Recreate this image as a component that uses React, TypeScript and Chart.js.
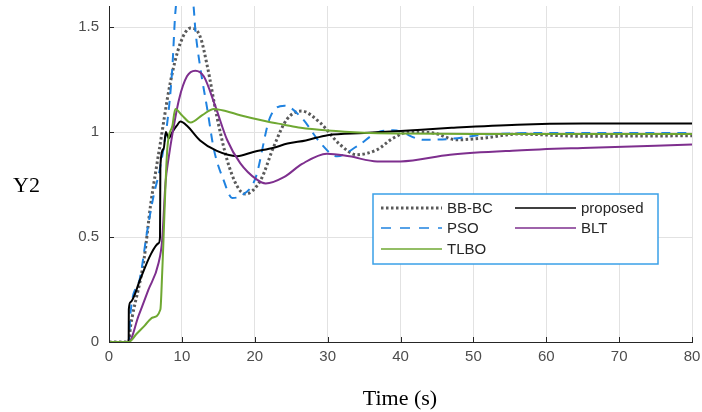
import React, { useEffect, useRef } from 'react';
import { Chart, registerables } from 'chart.js';
Chart.register(...registerables);

// ---- data ----
const xTicks = [0, 10, 20, 30, 40, 50, 60, 70, 80];
const yTicks = [0, 0.5, 1, 1.5];

const bbbcT = [0, 2.7, 2.95, 3.2, 4.8, 5.7, 6.6, 6.9, 8.4, 9.8, 11.2, 12.5, 13.5, 14.8, 16.2, 17.6, 18.7, 20.8, 22.6, 24.4, 26.4, 29, 31.7, 34, 36.8, 39, 41.3, 44.5, 47.7, 51.4, 56, 65, 80];
const bbbcY = [0, 0, 0.074, 0.122, 0.392, 0.65, 0.852, 0.916, 1.233, 1.424, 1.495, 1.455, 1.312, 1.074, 0.868, 0.741, 0.705, 0.77, 0.93, 1.06, 1.1, 1.043, 0.94, 0.892, 0.916, 0.971, 1.0, 0.995, 0.963, 0.971, 0.99, 0.98, 0.982];

const psoT = [0, 2.7, 2.95, 4.3, 5.2, 6.1, 7.05, 8.2, 8.7, 9.1, 10.3, 11.6, 11.85, 12.5, 13.5, 14.4, 15.7, 16.9, 18.3, 20.1, 22.1, 24.1, 26.5, 29, 31.3, 34, 37.2, 39, 43.2, 46.8, 51.4, 60, 80];
const psoY = [0, 0, 0.138, 0.312, 0.519, 0.693, 0.836, 1.106, 1.312, 1.567, 1.8, 1.6, 1.487, 1.312, 1.106, 0.916, 0.773, 0.686, 0.7, 0.78, 1.07, 1.125, 1.065, 0.948, 0.884, 0.931, 1.003, 1.008, 0.963, 0.967, 0.987, 0.995, 0.995];

const tlboT = [0, 2.7, 3.8, 4.9, 6.0, 7.05, 7.3, 8.0, 8.7, 9.1, 10, 11.2, 12.8, 14.4, 16, 18, 21.7, 24, 26.3, 30, 35, 40, 50, 60, 80];
const tlboY = [0, 0, 0.039, 0.078, 0.117, 0.155, 0.33, 0.92, 1.03, 1.11, 1.08, 1.045, 1.08, 1.11, 1.1, 1.08, 1.05, 1.035, 1.02, 1.007, 0.997, 0.993, 0.99, 0.99, 0.99];

const propT = [0, 2.7, 2.72, 2.95, 4.3, 5.7, 6.8, 7.0, 7.05, 7.5, 7.8, 8.2, 8.7, 9.3, 9.8, 10.7, 12.5, 14.8, 17.6, 19.8, 22.6, 24.5, 27, 30, 35, 40, 47, 56, 65, 80];
const propY = [0, 0, 0.155, 0.19, 0.3, 0.415, 0.47, 0.5, 0.84, 0.92, 1.0, 0.97, 1.0, 1.03, 1.05, 1.03, 0.96, 0.91, 0.885, 0.905, 0.925, 0.945, 0.96, 0.985, 0.995, 1.005, 1.02, 1.035, 1.04, 1.04];

const bltT = [0, 2.7, 4.05, 5.4, 6.8, 7.3, 7.75, 8.2, 8.7, 9.6, 10.7, 11.85, 13, 14.6, 16.2, 18, 20.3, 21.5, 24, 26.5, 29.9, 33, 36.8, 40, 46.8, 56, 65, 80];
const bltY = [0, 0, 0.124, 0.248, 0.376, 0.487, 0.757, 0.88, 0.99, 1.154, 1.265, 1.292, 1.265, 1.122, 0.963, 0.852, 0.773, 0.755, 0.785, 0.848, 0.897, 0.884, 0.86, 0.86, 0.892, 0.912, 0.924, 0.94];

const legendNames = ['BB-BC', 'proposed', 'PSO', 'BLT', 'TLBO'];

const COLORS = {
  bbbc: '#5a5a5a',
  pso: '#1f82e0',
  tlbo: '#6fa832',
  prop: '#000000',
  blt: '#7e2f8e',
};

const pts = (t: number[], y: number[]) => t.map((v, i) => ({ x: v, y: y[i] }));

const overlay = {
  id: 'overlay',
  afterDraw(chart: any) {
    const ctx = chart.ctx;
    const a = chart.chartArea;
    const xs = chart.scales.x;
    const ys = chart.scales.y;
    ctx.save();
    // inward ticks
    ctx.strokeStyle = '#262626';
    ctx.lineWidth = 1;
    ctx.beginPath();
    yTicks.forEach((v) => {
      const p = Math.round(ys.getPixelForValue(v)) + 0.5;
      ctx.moveTo(a.left, p);
      ctx.lineTo(a.left + 5, p);
    });
    xTicks.forEach((v) => {
      const p = Math.round(xs.getPixelForValue(v)) + 0.5;
      ctx.moveTo(p, a.bottom);
      ctx.lineTo(p, a.bottom - 5);
    });
    ctx.stroke();

    // axis labels
    ctx.fillStyle = '#000';
    ctx.font = '22px "Liberation Serif", serif';
    ctx.textAlign = 'left';
    ctx.textBaseline = 'middle';
    ctx.fillText('Y2', 13, 186);
    ctx.textAlign = 'center';
    ctx.fillText('Time (s)', 400, 399);

    // legend
    const bx = 373, by = 194, bw = 285, bh = 70;
    ctx.fillStyle = '#ffffff';
    ctx.fillRect(bx, by, bw, bh);
    ctx.strokeStyle = '#3aa0e8';
    ctx.lineWidth = 1.5;
    ctx.strokeRect(bx, by, bw, bh);
    const items = [
      { name: legendNames[0], color: COLORS.bbbc, dash: [2.5, 2.5], w: 3, x: 381, y: 208 },
      { name: legendNames[1], color: COLORS.prop, dash: [], w: 1.5, x: 515, y: 208 },
      { name: legendNames[2], color: COLORS.pso, dash: [10, 9], w: 1.5, x: 381, y: 228 },
      { name: legendNames[3], color: COLORS.blt, dash: [], w: 1.5, x: 515, y: 228 },
      { name: legendNames[4], color: COLORS.tlbo, dash: [], w: 1.5, x: 381, y: 249 },
    ];
    ctx.font = '15px "Liberation Sans", Arial, sans-serif';
    ctx.textAlign = 'left';
    ctx.textBaseline = 'middle';
    items.forEach((it) => {
      ctx.strokeStyle = it.color;
      ctx.lineWidth = it.w;
      ctx.setLineDash(it.dash);
      ctx.beginPath();
      ctx.moveTo(it.x, it.y);
      ctx.lineTo(it.x + 61, it.y);
      ctx.stroke();
      ctx.setLineDash([]);
      ctx.fillStyle = '#262626';
      ctx.fillText(it.name, it.x + 66, it.y + 1);
    });
    ctx.restore();
  },
};

export default function App() {
  const ref = useRef<HTMLCanvasElement>(null);
  useEffect(() => {
    if (!ref.current) return;
    const common = { pointRadius: 0, fill: false, cubicInterpolationMode: 'monotone' as const };
    const chart = new Chart(ref.current, {
      type: 'line',
      data: {
        datasets: [
          { ...common, label: 'TLBO', data: pts(tlboT, tlboY), borderColor: COLORS.tlbo, borderWidth: 2 },
          { ...common, label: 'BLT', data: pts(bltT, bltY), borderColor: COLORS.blt, borderWidth: 2 },
          { ...common, label: 'proposed', data: pts(propT, propY), borderColor: COLORS.prop, borderWidth: 2 },
          { ...common, label: 'PSO', data: pts(psoT, psoY), borderColor: COLORS.pso, borderWidth: 2, borderDash: [9, 7] },
          { ...common, label: 'BB-BC', data: pts(bbbcT, bbbcY), borderColor: COLORS.bbbc, borderWidth: 3, borderDash: [2.5, 2.5] },
        ],
      },
      options: {
        responsive: false,
        animation: false,
        devicePixelRatio: 1,
        layout: { padding: { top: 6, right: 10, left: 0, bottom: 0 } },
        plugins: { legend: { display: false }, tooltip: { enabled: false } },
        scales: {
          x: {
            type: 'linear',
            min: 0,
            max: 80,
            afterBuildTicks: (s: any) => { s.ticks = xTicks.map((v) => ({ value: v })); },
            afterFit: (s: any) => { s.height = 70; s.paddingLeft = 0; s.paddingRight = 0; },
            ticks: {
              color: '#4d4d4d',
              font: { size: 15, family: '"Liberation Sans", Arial, sans-serif' },
              padding: 6,
              maxRotation: 0,
              callback: (v: any) => String(v),
            },
            grid: { color: '#e2e2e2', drawTicks: false },
            border: { color: '#262626', width: 1 },
          },
          y: {
            type: 'linear',
            min: 0,
            max: 1.6,
            afterBuildTicks: (s: any) => { s.ticks = yTicks.map((v) => ({ value: v })); },
            afterFit: (s: any) => { s.width = 109; s.paddingTop = 0; s.paddingBottom = 0; },
            ticks: {
              color: '#4d4d4d',
              font: { size: 15, family: '"Liberation Sans", Arial, sans-serif' },
              padding: 10,
              callback: (v: any) => String(v),
            },
            grid: { color: '#e2e2e2', drawTicks: false },
            border: { color: '#262626', width: 1 },
          },
        },
      },
      plugins: [overlay],
    });
    return () => chart.destroy();
  }, []);
  return (
    <div style={{ position: 'fixed', left: 0, top: 0, width: 702, height: 412, background: '#fff' }}>
      <canvas ref={ref} width={702} height={412} style={{ width: 702, height: 412 }} />
    </div>
  );
}
